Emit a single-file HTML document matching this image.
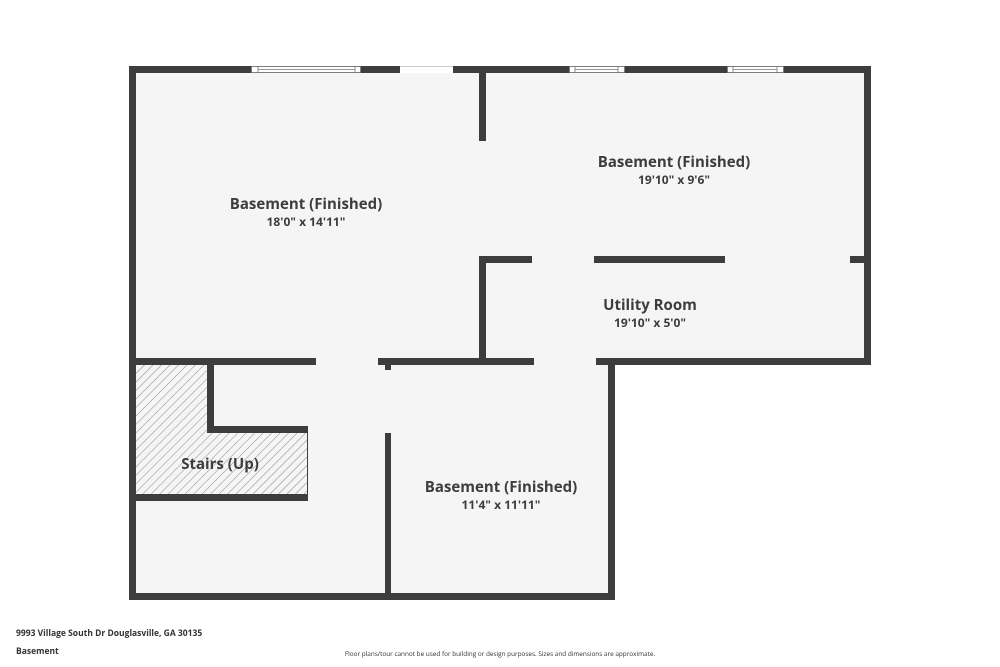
<!DOCTYPE html>
<html><head><style>
body{margin:0;background:#fff;}
svg{display:block;}
text{font-family:"Open Sans","Liberation Sans",sans-serif;fill:#3d3d3d;text-anchor:middle;}
.t{font-size:15px;font-weight:bold;}
.d{font-size:12px;font-weight:bold;}
</style></head><body>
<svg width="1000" height="667" viewBox="0 0 1000 667" xmlns="http://www.w3.org/2000/svg">
<defs>
<pattern id="h" width="6" height="6" patternUnits="userSpaceOnUse" patternTransform="rotate(45)">
<rect width="6" height="6" fill="#f5f5f5"/>
<line x1="0" y1="0" x2="0" y2="6" stroke="#7a7a7a" stroke-width="0.9"/>
</pattern>
</defs>
<polygon points="132,70 868,70 868,362 611,362 611,597 132,597" fill="#f5f5f5"/>
<polygon points="136,365 207,365 207,432 308,432 308,494 136,494" fill="url(#h)"/>
<g fill="#3d3d3d">
<rect x="129" y="66" width="7" height="534"/>
<rect x="129" y="66" width="742" height="7"/>
<rect x="864" y="66" width="7" height="299"/>
<rect x="596" y="358" width="275" height="7"/>
<rect x="608" y="358" width="7" height="242"/>
<rect x="129" y="593" width="486" height="7"/>
<rect x="479" y="66" width="7" height="75"/>
<rect x="479" y="256" width="53" height="7"/>
<rect x="479" y="256" width="7" height="109"/>
<rect x="594" y="256" width="131" height="7"/>
<rect x="850" y="256" width="16" height="7"/>
<rect x="378" y="358" width="156" height="7"/>
<rect x="385" y="363" width="6" height="7"/>
<rect x="129" y="358" width="187" height="7"/>
<rect x="207" y="358" width="7" height="74"/>
<rect x="207" y="426" width="101" height="7"/>
<rect x="129" y="494" width="179" height="7"/>
<rect x="385" y="433" width="6" height="167"/>
</g>
<line x1="307.5" y1="432" x2="307.5" y2="494" stroke="#3d3d3d" stroke-width="1"/>
<rect x="400" y="66" width="53" height="7" fill="#fff"/>
<line x1="400" y1="66.5" x2="453" y2="66.5" stroke="#ccc" stroke-width="1"/>
<g fill="#fff" stroke="#777" stroke-width="0.8">
<rect x="251.5" y="66.5" width="109" height="6"/>
<rect x="569.5" y="66.5" width="55" height="6"/>
<rect x="727.5" y="66.5" width="56" height="6"/>
</g>
<g stroke="#777" stroke-width="0.8">
<line x1="258" y1="66.5" x2="258" y2="72.5"/><line x1="355" y1="66.5" x2="355" y2="72.5"/>
<line x1="258" y1="69.5" x2="355" y2="69.5"/>
<line x1="575" y1="66.5" x2="575" y2="72.5"/><line x1="618" y1="66.5" x2="618" y2="72.5"/>
<line x1="575" y1="69.5" x2="618" y2="69.5"/>
<line x1="733" y1="66.5" x2="733" y2="72.5"/><line x1="777" y1="66.5" x2="777" y2="72.5"/>
<line x1="733" y1="69.5" x2="777" y2="69.5"/>
</g>
<text class="t" x="306" y="209">Basement (Finished)</text>
<text class="d" x="306" y="226">18'0" x 14'11"</text>
<text class="t" x="674" y="167">Basement (Finished)</text>
<text class="d" x="674" y="184">19'10" x 9'6"</text>
<text class="t" x="650" y="310">Utility Room</text>
<text class="d" x="650" y="327">19'10" x 5'0"</text>
<text class="t" x="220" y="469">Stairs (Up)</text>
<text class="t" x="501" y="492">Basement (Finished)</text>
<text class="d" x="501" y="509">11'4" x 11'11"</text>
<text x="16" y="636" style="font-size:8.5px;font-weight:bold;text-anchor:start;fill:#333">9993 Village South Dr Douglasville, GA 30135</text>
<text x="16" y="654" style="font-size:8.5px;font-weight:bold;text-anchor:start;fill:#333">Basement</text>
<text x="500" y="656" style="font-size:6.4px;text-anchor:middle;fill:#333">Floor plans/tour cannot be used for building or design purposes. Sizes and dimensions are approximate.</text>
</svg>
</body></html>
